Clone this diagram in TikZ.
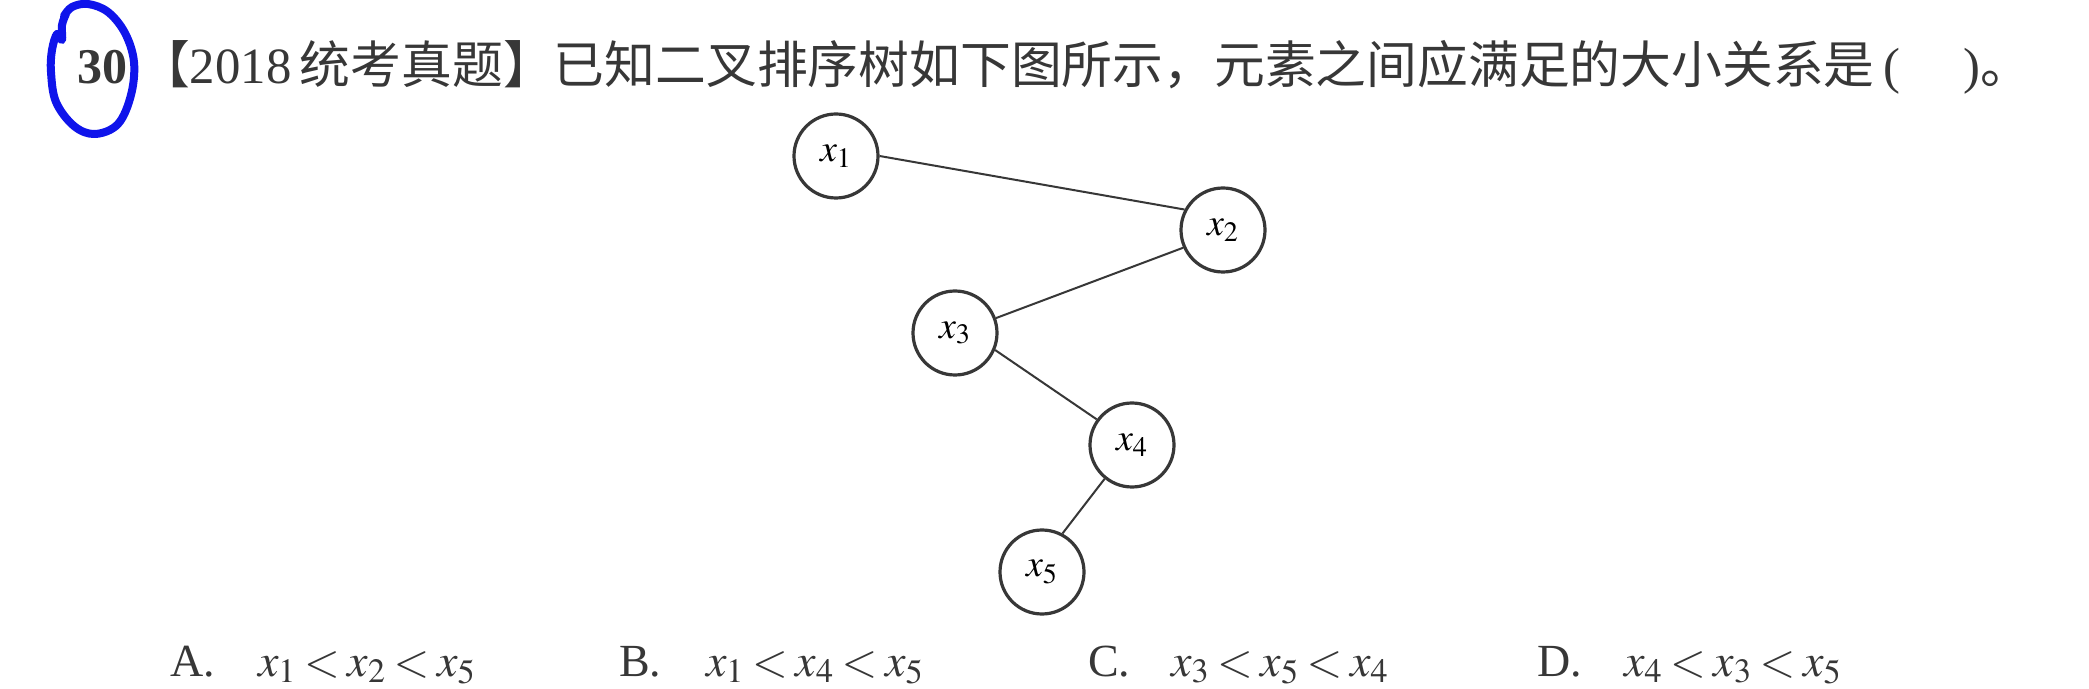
\documentclass[tikz,border=0pt]{standalone}
\usepackage{mathptmx}
\usepackage{fontspec}
\setmainfont{Liberation Serif}
\newfontfamily\cjk{Noto Sans CJK SC}
\definecolor{penblue}{RGB}{15,20,235}
\definecolor{inkgray}{RGB}{55,55,55}

\begin{document}
\begin{tikzpicture}[x=0.5pt, y=-0.5pt,
    treenode/.style={circle, draw=inkgray, line width=1.6pt, minimum size=42pt, inner sep=0pt, font=\fontsize{19}{22}\selectfont},
    treeedge/.style={draw=inkgray, line width=1pt},
    choice/.style={anchor=base west, text=inkgray, font=\fontsize{23}{28}\selectfont}]
    \useasboundingbox[fill=white] (0,0) rectangle (2089,689);

    % question number, circled by hand
    \node[anchor=base west, text=inkgray, font=\fontsize{25}{30}\selectfont\bfseries] (num) at (70,84) {30};
    \draw[penblue, line width=4pt, line cap=round, line join=round] plot[smooth, tension=0.6] coordinates {(66,14) (62,25) (62,40) (57,34) (52,50) (51,72) (56,102) (74,126) (95,134) (118,124) (131,95) (134,62) (125,33) (108,12) (88,4) (72,7) (64,16)};

    \node[anchor=base west, text=inkgray, font=\fontsize{25.4}{30}\selectfont] (title) at (132,84)
        {{\cjk 【}2018\,{\cjk 统考真题】已知二叉排序树如下图所示，元素之间应满足的大小关系是}\,(\quad\ ){\cjk 。}};

    % the tree
    \node[treenode] (x1) at (836,156) {$x_1$};
    \node[treenode] (x2) at (1223,230) {$x_2$};
    \node[treenode] (x3) at (955,333) {$x_3$};
    \node[treenode] (x4) at (1132,445) {$x_4$};
    \node[treenode] (x5) at (1042,572) {$x_5$};

    \draw[treeedge] (x1.east) -- (x2.152);
    \draw[treeedge] (x2.204) -- (x3.20);
    \draw[treeedge] (x3.337) -- (x4.144);
    \draw[treeedge] (x4.231) -- (x5.62);

    % choices
    \thickmuskip=3mu
    \node[choice] (labA) at (163,676) {A.};
    \node[choice] (ansA) at (251,676) {$x_1<x_2<x_5$};
    \node[choice] (labB) at (612,676) {B.};
    \node[choice] (ansB) at (699,676) {$x_1<x_4<x_5$};
    \node[choice] (labC) at (1081,676) {C.};
    \node[choice] (ansC) at (1164,676) {$x_3<x_5<x_4$};
    \node[choice] (labD) at (1530,676) {D.};
    \node[choice] (ansD) at (1617,676) {$x_4<x_3<x_5$};
\end{tikzpicture}
\end{document}
